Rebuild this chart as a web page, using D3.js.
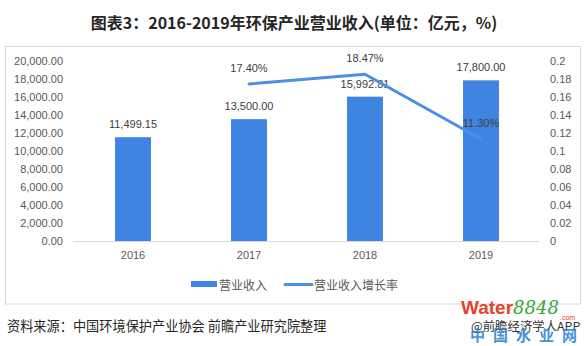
<!DOCTYPE html>
<html><head><meta charset="utf-8">
<script src="https://cdn.jsdelivr.net/npm/d3@7/dist/d3.min.js"></script>
<style>
html,body{margin:0;padding:0;background:#fff;}
svg{display:block;}
</style></head>
<body>
<svg id="chart" width="588" height="346"></svg>
<script>
const years = ["2016", "2017", "2018", "2019"];
const revenue = [11499.15, 13500.00, 15992.81, 17800.00];
const revenueLabels = ["11,499.15", "13,500.00", "15,992.81", "17,800.00"];
const growthYears = ["2017", "2018", "2019"];
const growth = [0.1740, 0.1847, 0.1130];
const growthLabels = ["17.40%", "18.47%", "11.30%"];
const leftTicks = [0, 2000, 4000, 6000, 8000, 10000, 12000, 14000, 16000, 18000, 20000];
const rightTicks = [0, 0.02, 0.04, 0.06, 0.08, 0.1, 0.12, 0.14, 0.16, 0.18, 0.2];
const titleText = "图表3：2016-2019年环保产业营业收入(单位：亿元，%)";
const legendNames = ["营业收入", "营业收入增长率"];
const sourceText = "资料来源：中国环境保护产业协会 前瞻产业研究院整理";

const svg = d3.select("#chart");
const numFont = "'Liberation Sans', 'Noto Sans CJK SC', sans-serif";
const cjkFont = "'Noto Sans CJK SC', 'Liberation Sans', sans-serif";
const barColor = "#4084E1";
const lineColor = "#4C8FE6";

// frame
svg.append("rect").attr("x", 5.5).attr("y", 46.5).attr("width", 575).attr("height", 257.5)
  .attr("fill", "none").attr("stroke", "#d9d9d9").attr("stroke-width", 1);

// title
svg.append("text").attr("x", 294).attr("y", 22).attr("text-anchor", "middle")
  .attr("dominant-baseline", "central")
  .attr("font-family", cjkFont).attr("font-weight", "bold").attr("font-size", 16)
  .attr("fill", "#262626").text(titleText);

const x = d3.scaleBand().domain(years).range([75, 539]).paddingInner(0.69).paddingOuter(0.345);
const y = d3.scaleLinear().domain([0, 20000]).range([241, 60.5]);
const y2 = d3.scaleLinear().domain([0, 0.2]).range([241, 60.5]);

// left axis
const leftAxis = d3.axisLeft(y).tickValues(leftTicks).tickSize(0).tickPadding(0)
  .tickFormat(d3.format(",.2f"));
const gl = svg.append("g").attr("transform", "translate(63,0)").call(leftAxis);
gl.select(".domain").remove();
gl.selectAll("text").attr("font-family", numFont).attr("font-size", 11).attr("fill", "#595959").attr("x", 0);

// right axis
const rightAxis = d3.axisRight(y2).tickValues(rightTicks).tickSize(0).tickPadding(0)
  .tickFormat(d => d3.format("")(+d.toFixed(2)));
const gr = svg.append("g").attr("transform", "translate(550,0)").call(rightAxis);
gr.select(".domain").remove();
gr.selectAll("text").attr("font-family", numFont).attr("font-size", 11).attr("fill", "#595959").attr("x", 0);

// bottom axis
const bottomAxis = d3.axisBottom(x).tickSize(0).tickPadding(10);
const gb = svg.append("g").attr("transform", "translate(0,241)").call(bottomAxis);
gb.select(".domain").attr("stroke", "#d9d9d9").attr("d", "M-1,0.5H465");
gb.select(".domain").attr("transform", "translate(74,0)");
gb.selectAll("text").attr("font-family", numFont).attr("font-size", 11).attr("fill", "#595959");

// bars
svg.append("g").selectAll("rect").data(years).join("rect")
  .attr("x", d => x(d)).attr("width", x.bandwidth())
  .attr("y", (d, i) => y(revenue[i])).attr("height", (d, i) => y(0) - y(revenue[i]))
  .attr("fill", barColor);

// bar labels
svg.append("g").selectAll("text").data(years).join("text")
  .attr("x", d => x(d) + x.bandwidth() / 2)
  .attr("y", (d, i) => y(revenue[i]) - 13)
  .attr("text-anchor", "middle").attr("dominant-baseline", "central")
  .attr("font-family", numFont).attr("font-size", 11).attr("fill", "#404040")
  .text((d, i) => revenueLabels[i]);

// line
const line = d3.line().x((d, i) => x(growthYears[i]) + x.bandwidth() / 2).y(d => y2(d));
svg.append("path").datum(growth).attr("d", line)
  .attr("fill", "none").attr("stroke", lineColor).attr("stroke-width", 3)
  .attr("stroke-linejoin", "round").attr("stroke-linecap", "round");

svg.append("g").selectAll("text").data(growth).join("text")
  .attr("x", (d, i) => x(growthYears[i]) + x.bandwidth() / 2)
  .attr("y", d => y2(d) - 16)
  .attr("text-anchor", "middle").attr("dominant-baseline", "central")
  .attr("font-family", numFont).attr("font-size", 11).attr("fill", "#404040")
  .text((d, i) => growthLabels[i]);

// legend
const lg = svg.append("g");
lg.append("rect").attr("x", 191).attr("y", 281).attr("width", 26).attr("height", 6).attr("fill", barColor);
lg.append("text").attr("x", 219).attr("y", 284.5).attr("dominant-baseline", "central")
  .attr("font-family", cjkFont).attr("font-size", 12).attr("fill", "#595959").text(legendNames[0]);
lg.append("line").attr("x1", 285).attr("x2", 312).attr("y1", 284.5).attr("y2", 284.5)
  .attr("stroke", lineColor).attr("stroke-width", 3).attr("stroke-linecap", "round");
lg.append("text").attr("x", 314).attr("y", 284.5).attr("dominant-baseline", "central")
  .attr("font-family", cjkFont).attr("font-size", 12).attr("fill", "#595959").text(legendNames[1]);

// source
svg.append("text").attr("x", 7).attr("y", 325).attr("dominant-baseline", "central")
  .attr("font-family", cjkFont).attr("font-size", 13.2).attr("fill", "#262626").text(sourceText);

// watermark texts bottom right
svg.append("text").attr("x", 471).attr("y", 326).attr("dominant-baseline", "central")
  .attr("font-family", cjkFont).attr("font-size", 12.4).attr("fill", "#333").text("@前瞻经济学人APP");
const wm = svg.append("text").attr("x", 461).attr("y", 314).attr("font-family", numFont);
wm.append("tspan").attr("font-size", 19).attr("font-weight", "bold").attr("fill", "#e8412c").text("Water");
wm.append("tspan").attr("font-size", 18).attr("font-style", "italic").attr("font-family", "'DejaVu Serif', serif").attr("fill", "#3aa53a").text("8848");
svg.append("text").attr("x", 560).attr("y", 320).attr("font-family", numFont).attr("font-size", 7).attr("fill", "#e8412c").text(".com");
svg.append("text").attr("x", 470).attr("y", 334).attr("dominant-baseline", "central")
  .attr("font-family", cjkFont).attr("font-size", 15).attr("font-weight", "bold").attr("letter-spacing", 8)
  .attr("fill", "#2a7fd4").attr("opacity", 0.85).text("中国水业网");
</script>
</body></html>
